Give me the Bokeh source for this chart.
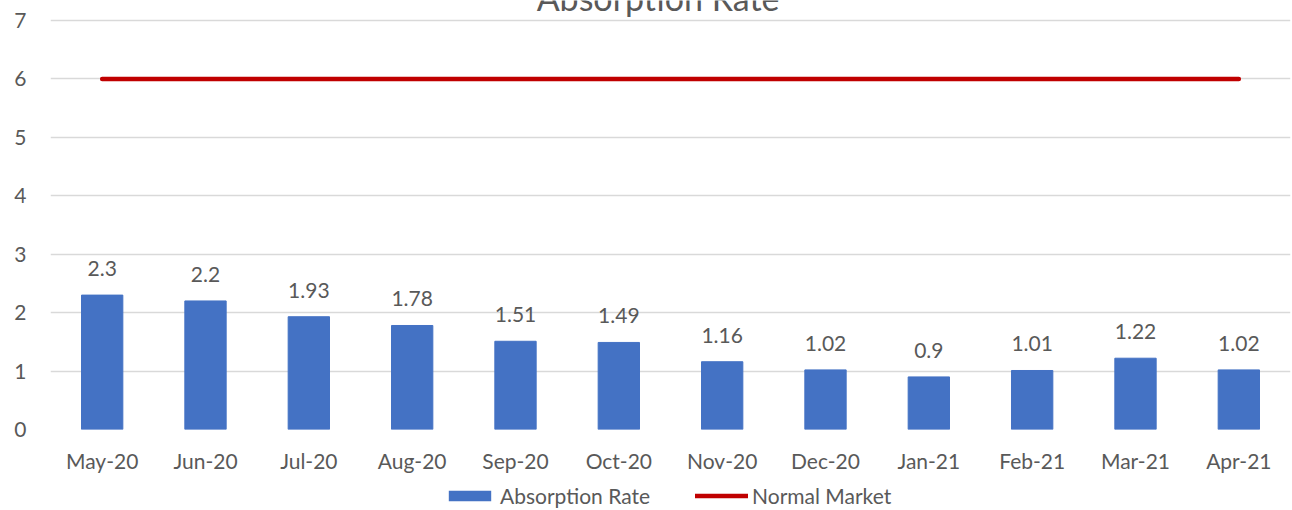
from bokeh.plotting import figure
from bokeh.layouts import column
from bokeh.models import ColumnDataSource, Legend, LegendItem, Label, LabelSet
from bokeh.embed import file_html
from bokeh.resources import INLINE
from bokeh.core.properties import value

months = ["May-20", "Jun-20", "Jul-20", "Aug-20", "Sep-20", "Oct-20",
          "Nov-20", "Dec-20", "Jan-21", "Feb-21", "Mar-21", "Apr-21"]
absorption = [2.3, 2.2, 1.93, 1.78, 1.51, 1.49, 1.16, 1.02, 0.9, 1.01, 1.22, 1.02]
normal_market = [6, 6, 6, 6, 6, 6, 6, 6, 6, 6, 6, 6]
labels = ["2.3", "2.2", "1.93", "1.78", "1.51", "1.49", "1.16", "1.02", "0.9", "1.01", "1.22", "1.02"]

FONT = "Lato"
GRAY = "#595959"
BLUE = "#4472C4"
RED = "#C00000"
FS = "21px"

src = ColumnDataSource(dict(x=months, y=absorption, n=normal_market, lab=labels))

# frame spans from the canvas top to y=0; gridline 7 sits 20px below the top
p = figure(x_range=months, y_range=(0, 7.342), width=1292, height=475,
           output_backend="svg", toolbar_location=None,
           min_border_top=0, min_border_left=50, min_border_right=2, min_border_bottom=40)

p.outline_line_color = None
p.background_fill_color = "white"
p.border_fill_color = "white"

bars = p.vbar(x="x", top="y", width=0.4, source=src, color=BLUE)
line = p.line(x="x", y="n", source=src, line_color=RED, line_width=4.5, line_cap="round")

p.add_layout(LabelSet(x="x", y="y", text="lab", source=src, text_align="center",
                      text_baseline="bottom", y_offset=19, text_font=value(FONT),
                      text_font_size=FS, text_color=GRAY))

p.xgrid.grid_line_color = None
p.ygrid.grid_line_color = "#D9D9D9"
p.ygrid.grid_line_width = 1.5
p.yaxis.ticker = [0, 1, 2, 3, 4, 5, 6, 7]

for ax in (p.xaxis[0], p.yaxis[0]):
    ax.axis_line_color = None
    ax.major_tick_line_color = None
    ax.minor_tick_line_color = None
    ax.major_label_text_font = FONT
    ax.major_label_text_font_size = FS
    ax.major_label_text_color = GRAY
p.xaxis.major_label_standoff = 12
p.yaxis.major_label_standoff = 18

p.add_layout(Label(x=5.88, y=7.342, y_offset=3, text="Absorption Rate", text_align="center",
                   text_baseline="alphabetic", text_font=FONT,
                   text_font_size="34px", text_color=GRAY))

# legend strip (zero-size sample glyphs, nothing visible is drawn)
dummy = ColumnDataSource(dict(x=[0.5], y=[-5.0], top=[0.0], bottom=[0.0]))
p2 = figure(width=1292, height=35, x_range=(0, 1), y_range=(0, 1),
            output_backend="svg", toolbar_location=None,
            min_border=0, x_axis_location=None, y_axis_location=None)
p2.outline_line_color = None
p2.xgrid.grid_line_color = None
p2.ygrid.grid_line_color = None
p2.background_fill_color = "white"
lb = p2.vbar(x="x", top="top", bottom="bottom", width=0.1, source=dummy,
             fill_color=BLUE, line_color=None)
ll = p2.line(x="x", y="y", source=dummy, line_color=RED, line_width=4.5, line_cap="round")

legend = Legend(items=[LegendItem(label="Absorption Rate", renderers=[lb]),
                       LegendItem(label="Normal Market", renderers=[ll])],
                orientation="horizontal", location=(393, 2),
                label_text_font=FONT, label_text_font_size=FS, label_text_color=GRAY,
                glyph_width=53, glyph_height=13, spacing=45, label_standoff=4,
                border_line_color=None, background_fill_alpha=0, padding=0, margin=0)
p2.add_layout(legend)

layout = column(p, p2, spacing=0)
open("out.html", "w").write(file_html(layout, INLINE))
